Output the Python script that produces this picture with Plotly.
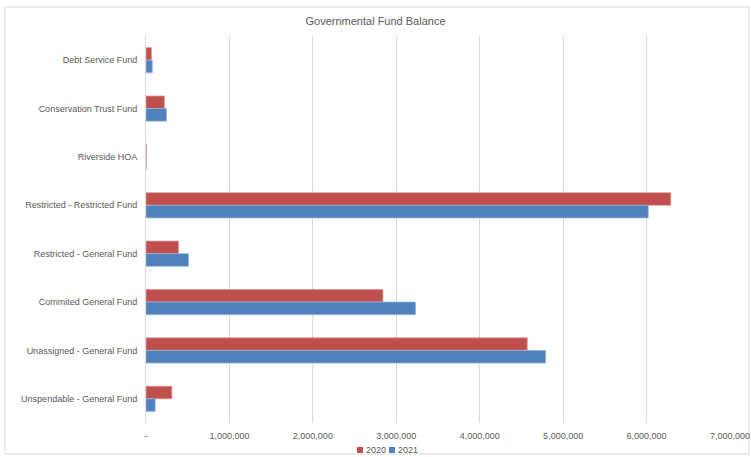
import plotly.graph_objects as go

categories = ["Debt Service Fund", "Conservation Trust Fund", "Riverside HOA",
              "Restricted - Restricted Fund", "Restricted - General Fund",
              "Commited General Fund", "Unassigned - General Fund",
              "Unspendable - General Fund"]
values_2020 = [65000, 220000, 3000, 6290000, 390000, 2840000, 4570000, 310000]
values_2021 = [75000, 245000, 2000, 6020000, 510000, 3230000, 4790000, 110000]
series_names = ["2020", "2021"]
series_colors = ["#C0504D", "#4F81BD"]
tick_vals = [0, 1000000, 2000000, 3000000, 4000000, 5000000, 6000000, 7000000]
tick_text = ["-", "1,000,000", "2,000,000", "3,000,000", "4,000,000",
             "5,000,000", "6,000,000", "7,000,000"]

FONT = "Liberation Sans Narrow, Liberation Sans, Arial"

W, H = 751, 457
L, R, T, B = 146, 21, 36, 34
PW, PH = W - L - R, H - T - B


def px_x(px):
    return (px - L) / PW


def px_y(py):
    return (H - B - py) / PH


fig = go.Figure()
fig.add_trace(go.Bar(y=categories, x=values_2020, name=series_names[0], orientation="h",
                     marker=dict(color=series_colors[0], line=dict(color="#D99694", width=0.8))))
fig.add_trace(go.Bar(y=categories, x=values_2021, name=series_names[1], orientation="h",
                     marker=dict(color=series_colors[1], line=dict(color="#95B3D7", width=0.8))))

shapes = [dict(type="rect", xref="paper", yref="paper",
               x0=px_x(5), x1=px_x(749), y0=px_y(454), y1=px_y(7),
               line=dict(color="#D9D9D9", width=1), fillcolor="rgba(0,0,0,0)",
               layer="below")]
annotations = []
legend_x = [357, 389]
for name, color, lx in zip(series_names, series_colors, legend_x):
    shapes.append(dict(type="rect", xref="paper", yref="paper",
                       x0=px_x(lx), x1=px_x(lx + 6), y0=px_y(453), y1=px_y(447),
                       line=dict(width=0), fillcolor=color))
    annotations.append(dict(text=name, xref="paper", yref="paper",
                            x=px_x(lx + 7), y=px_y(450), xanchor="left", yanchor="middle",
                            showarrow=False, font=dict(size=9, color="#595959")))

fig.update_layout(
    width=W, height=H,
    margin=dict(l=L, r=R, t=T, b=B, autoexpand=False),
    paper_bgcolor="white", plot_bgcolor="white",
    font=dict(family=FONT, size=9, color="#595959"),
    title=dict(text="Governmental Fund Balance", x=0.5, xanchor="center",
               y=1 - 21 / H, yanchor="middle", font=dict(size=11, color="#595959")),
    barmode="group", bargap=0.48, bargroupgap=0,
    showlegend=False,
    xaxis=dict(range=[0, 7000000], tickvals=tick_vals, ticktext=tick_text,
               showgrid=True, gridcolor="#D9D9D9", gridwidth=1, zeroline=False,
               showline=False, ticks="", ticklen=0, ticklabelstandoff=6),
    yaxis=dict(autorange="reversed", showgrid=False, showline=True,
               linecolor="#D9D9D9", linewidth=1, ticks="", ticklabelstandoff=6),
    shapes=shapes,
    annotations=annotations,
)

fig.write_html("out.html", config={"displayModeBar": False},
               post_script="document.body.style.margin='0';document.body.style.overflow='hidden';")
